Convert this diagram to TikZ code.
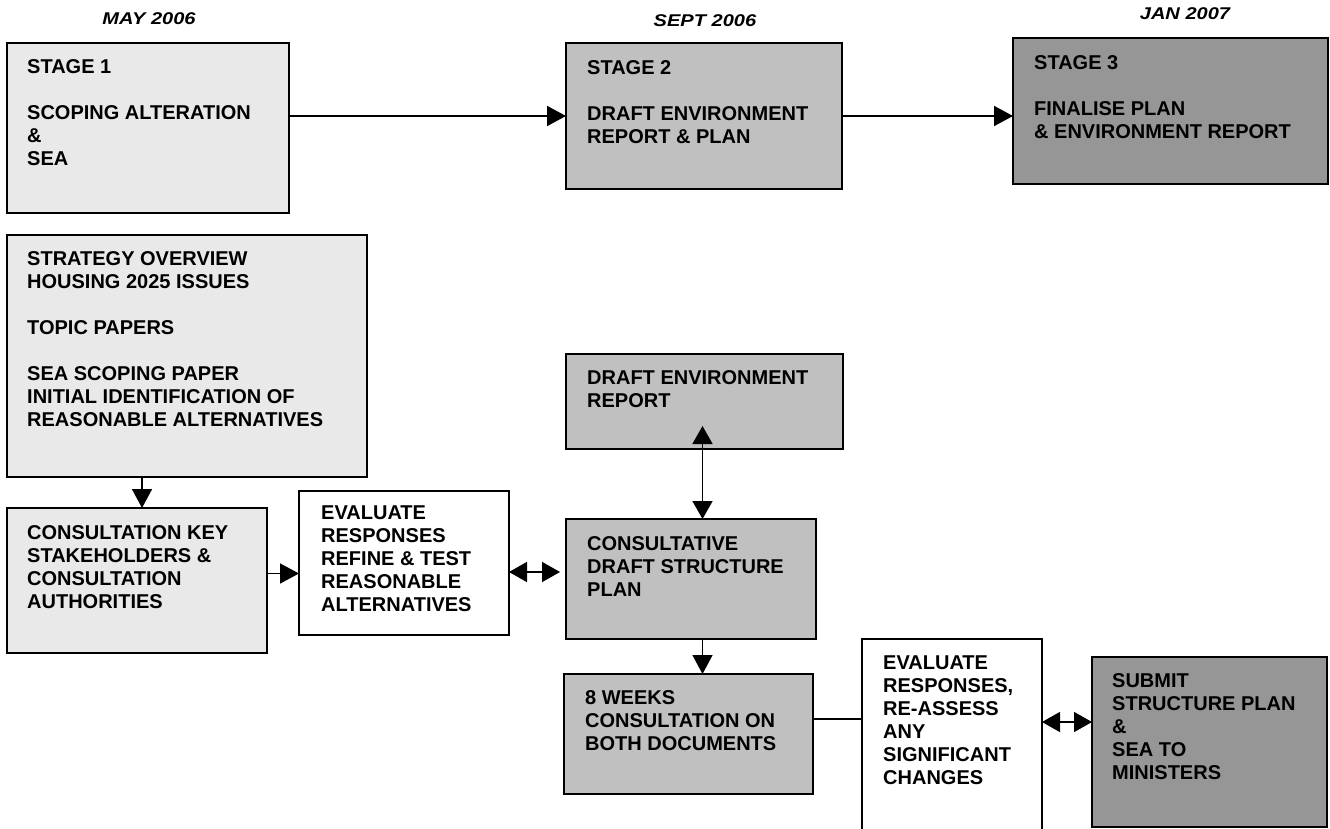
\documentclass[tikz,border=0pt]{standalone}
\usepackage{fontspec}
\setmainfont{Liberation Sans}
\newfontfamily\datefont[FakeStretch=1.18]{Liberation Sans}
\usetikzlibrary{arrows.meta, calc}

\definecolor{paleGrey}{RGB}{233,233,233}
\definecolor{midGrey}{RGB}{192,192,192}
\definecolor{darkGrey}{RGB}{150,150,150}

\tikzset{
    panel/.style={draw, line width=1.5pt, anchor=north west, inner sep=0pt, outer sep=0pt},
    caption/.style={anchor=north west, align=left, inner sep=0pt, font=\bfseries\fontsize{20}{23}\selectfont},
    datelabel/.style={inner sep=0pt, font=\datefont\bfseries\itshape\fontsize{17}{20}\selectfont},
    flow/.style={line width=1.5pt, -{Triangle[length=19pt, width=20pt]}},
    twoway/.style={line width=1.5pt, {Triangle[length=18pt, width=20pt]}-{Triangle[length=18pt, width=20pt]}},
    link/.style={line width=1.5pt}
}

\begin{document}
\begin{tikzpicture}[x=1pt, y=-1pt]
        \useasboundingbox (0, 0) rectangle (1330, 829);
        \clip (0, 0) rectangle (1330, 829);
        \node [datelabel] (dateI) at (149, 19) {MAY 2006};
        \node [datelabel] (dateII) at (705, 21) {SEPT 2006};
        \node [datelabel] (dateIII) at (1185, 14) {JAN 2007};
        \node [panel, fill=paleGrey, minimum width=282pt, minimum height=170pt] (stageI) at (7, 43) {};
        \node [panel, fill=midGrey, minimum width=276pt, minimum height=146pt] (stageII) at (566, 43) {};
        \node [panel, fill=darkGrey, minimum width=315pt, minimum height=146pt] (stageIII) at (1013, 38) {};
        \node [panel, fill=paleGrey, minimum width=360pt, minimum height=242pt] (strategy) at (7, 235) {};
        \node [panel, fill=paleGrey, minimum width=260pt, minimum height=145pt] (consult) at (7, 508) {};
        \node [panel, fill=white, minimum width=210pt, minimum height=144pt] (evalA) at (299, 491) {};
        \node [panel, fill=midGrey, minimum width=277pt, minimum height=95pt] (draftEnv) at (566, 354) {};
        \node [panel, fill=midGrey, minimum width=250pt, minimum height=120pt] (consultative) at (566, 519) {};
        \node [panel, fill=midGrey, minimum width=249pt, minimum height=120pt] (weeks) at (564, 674) {};
        \node [panel, fill=white, minimum width=180pt, minimum height=220pt] (evalB) at (862, 639) {};
        \node [panel, fill=darkGrey, minimum width=235pt, minimum height=170pt] (submit) at (1092, 657) {};
        \node [caption] (stageItext) at ([shift={(20, 16)}]stageI.north west)
            {STAGE 1\\[23pt]SCOPING ALTERATION\\\&\\SEA};
        \node [caption] (stageIItext) at ([shift={(21, 17)}]stageII.north west)
            {STAGE 2\\[23pt]DRAFT ENVIRONMENT\\REPORT \& PLAN};
        \node [caption] (stageIIItext) at ([shift={(21, 17)}]stageIII.north west)
            {STAGE 3\\[23pt]FINALISE PLAN\\\& ENVIRONMENT REPORT};
        \node [caption] (strategytext) at ([shift={(20, 16)}]strategy.north west)
            {STRATEGY OVERVIEW\\HOUSING 2025 ISSUES\\[23pt]TOPIC PAPERS\\[23pt]SEA SCOPING PAPER\\INITIAL IDENTIFICATION OF\\REASONABLE ALTERNATIVES};
        \node [caption] (consulttext) at ([shift={(20, 17)}]consult.north west)
            {CONSULTATION KEY\\STAKEHOLDERS \&\\CONSULTATION\\AUTHORITIES};
        \node [caption] (evalAtext) at ([shift={(22, 15)}]evalA.north west)
            {EVALUATE\\RESPONSES\\REFINE \& TEST\\REASONABLE\\ALTERNATIVES};
        \node [caption] (draftEnvtext) at ([shift={(21, 16)}]draftEnv.north west)
            {DRAFT ENVIRONMENT\\REPORT};
        \node [caption] (consultativetext) at ([shift={(21, 17)}]consultative.north west)
            {CONSULTATIVE\\DRAFT STRUCTURE\\PLAN};
        \node [caption] (weekstext) at ([shift={(21, 16)}]weeks.north west)
            {8 WEEKS\\CONSULTATION ON\\BOTH DOCUMENTS};
        \node [caption] (evalBtext) at ([shift={(21, 17)}]evalB.north west)
            {EVALUATE\\RESPONSES,\\RE-ASSESS\\ANY\\SIGNIFICANT\\CHANGES};
        \node [caption] (submittext) at ([shift={(20, 16)}]submit.north west)
            {SUBMIT\\STRUCTURE PLAN\\\&\\SEA TO\\MINISTERS};
        \coordinate (dropX) at ($(consult.north)+(5, 0)$);
        \coordinate (consultOut) at ($(consult.east)+(0, -7)$);
        \coordinate (evalAOut) at ($(evalA.east)+(0, 9)$);
        \coordinate (linkTop) at ($(draftEnv.south)+(-2, -23)$);
        \coordinate (weeksOut) at ($(weeks.east)+(0, -15)$);
        \coordinate (submitIn) at ($(submit.west)+(0, -20)$);
        \draw [flow] (stageI.east |- stageII.west) -- (stageII.west);
        \draw [flow] (stageII.east) -- (stageII.east -| stageIII.west);
        \draw [flow] (dropX |- strategy.south) -- (dropX);
        \draw [flow] (consultOut) -- (consultOut -| evalA.west);
        \draw [twoway, shorten >=6pt] (evalAOut) -- (evalAOut -| consultative.west);
        \draw [twoway] (linkTop) -- (linkTop |- consultative.north);
        \draw [flow] (linkTop |- consultative.south) -- (linkTop |- weeks.north);
        \draw [link] (weeksOut) -- (weeksOut -| evalB.west);
        \draw [twoway] (submitIn -| evalB.east) -- (submitIn);
    \end{tikzpicture}
\end{document}
